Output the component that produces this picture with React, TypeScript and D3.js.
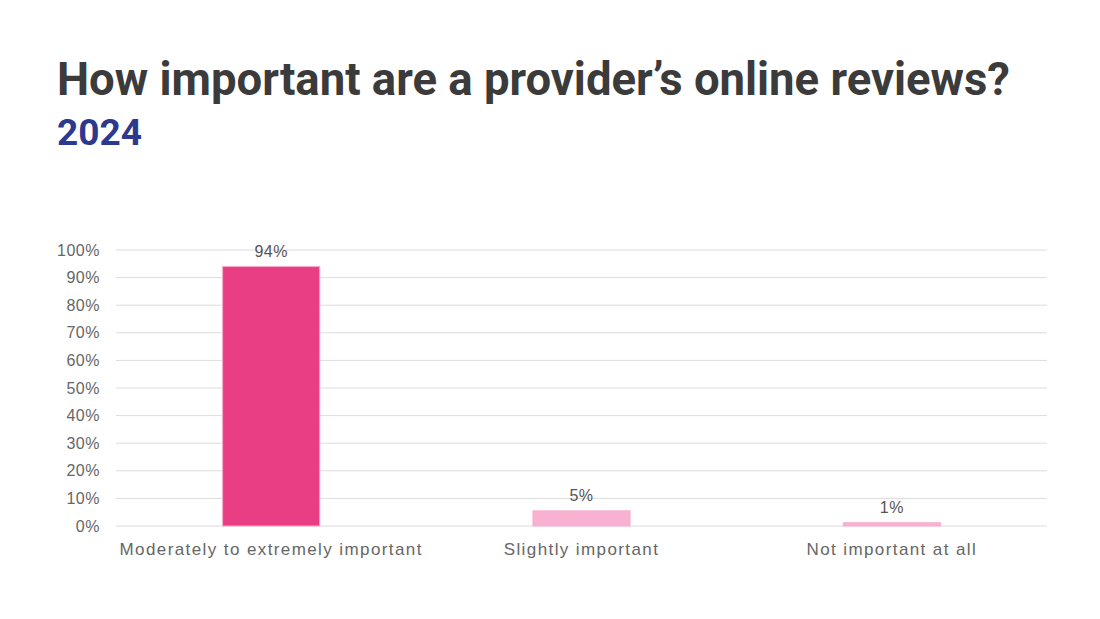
import React from 'react';
import * as d3 from 'd3';

const width = 1100;
const height = 619;

const categories = ['Moderately to extremely important', 'Slightly important', 'Not important at all'];
const values = [94, 5.5, 1.2];
const valueLabels = ['94%', '5%', '1%'];
const barColors = ['#E93E83', '#F8B1D1', '#F8B1D1'];
const yTicks = [0, 10, 20, 30, 40, 50, 60, 70, 80, 90, 100];

const margin = { left: 116, right: 53, top: 250, bottom: 93 };

export default function App() {
  const x = d3
    .scaleBand<string>()
    .domain(categories)
    .range([margin.left, width - margin.right])
    .paddingInner(0.687)
    .paddingOuter(0.3435);
  const y = d3.scaleLinear().domain([0, 100]).range([height - margin.bottom, margin.top]);

  const font = '"Liberation Sans", Arial, sans-serif';

  return (
    <svg width={width} height={height} style={{ position: 'absolute', left: 0, top: 0 }}>
      <rect width={width} height={height} fill="#fff" />
      <text x={57} y={95} fontFamily='Roboto, "Liberation Sans", sans-serif' fontWeight="bold"
        fontSize={47} fill="#3b3b3b" textLength={953} lengthAdjust="spacingAndGlyphs">
        How important are a provider’s online reviews?
      </text>
      <text x={57} y={145} fontFamily='Roboto, "Liberation Sans", sans-serif' fontWeight="bold"
        fontSize={37} fill="#2B3990">
        2024
      </text>

      {/* gridlines + y ticks */}
      {yTicks.map((t) => (
        <g key={t}>
          <line x1={margin.left} x2={width - margin.right} y1={y(t)} y2={y(t)} stroke="#dcdcdc" strokeWidth={1} />
          <text x={100} y={y(t)} dy="0.35em" textAnchor="end" fontFamily={font} fontSize={16}
            fill="#666" letterSpacing={0.5}>
            {t}%
          </text>
        </g>
      ))}

      {categories.map((c, i) => (
        <g key={c}>
          <rect x={x(c)} y={y(values[i])} width={x.bandwidth()} height={y(0) - y(values[i])}
            fill={barColors[i]} stroke={i === 0 ? '#F6A9C8' : barColors[i]} strokeWidth={1} />
          <text x={(x(c) as number) + x.bandwidth() / 2} y={y(values[i]) - 10} textAnchor="middle"
            fontFamily={font} fontSize={16} fill="#555" letterSpacing={0.5}>
            {valueLabels[i]}
          </text>
          <text x={(x(c) as number) + x.bandwidth() / 2} y={555} textAnchor="middle"
            fontFamily={font} fontSize={17} fill="#666" letterSpacing={1.4}>
            {c}
          </text>
        </g>
      ))}
    </svg>
  );
}
